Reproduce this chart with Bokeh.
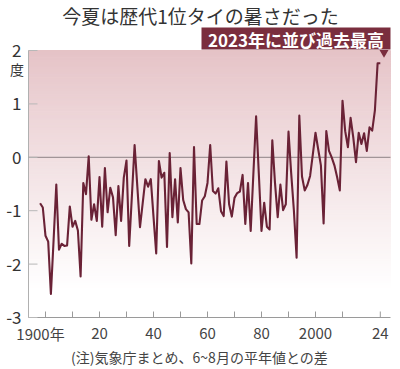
import numpy as np
from bokeh.plotting import figure
from bokeh.models import Range1d
from bokeh.embed import file_html
from bokeh.resources import INLINE
from bokeh.core.properties import value

# ---------------- data ----------------
years = list(range(1898, 2025))
anomaly = [
    -0.86, -0.94, -1.47, -1.58, -2.56, -1.55, -0.51, -1.73, -1.62, -1.66,   # 1898-1907
    -1.65, -0.92, -1.30, -1.19, -1.37, -2.23, -0.48, -0.69, 0.02, -1.17,    # 1908-1917
    -0.88, -1.19, -0.37, -1.30, -0.20, -1.03, -0.57, -0.75, -1.46, -0.54,   # 1918-1927
    -1.19, -0.38, -0.06, -1.66, -0.72, 0.23, -0.54, -1.31, -0.86, -0.41,    # 1928-1937
    -0.55, -0.41, -1.11, -1.80, -0.07, -0.38, -0.29, -1.68, 0.08, -1.12,    # 1938-1947
    -0.41, -1.22, -0.20, -0.80, -0.97, -1.03, -1.99, 0.19, -1.25, -1.25,    # 1948-1957
    -0.81, -0.73, -0.48, 0.23, -0.63, -0.68, -0.58, -1.01, -1.10, -0.08,    # 1958-1967
    -0.88, -1.11, -0.76, -0.67, -0.64, -0.33, -1.25, -0.48, -1.38, -0.30,   # 1968-1977
    0.77, -0.30, -1.38, -0.85, -1.30, -1.35, 0.32, -0.48, -1.12, -0.51,     # 1978-1987
    -0.99, -0.88, 0.48, -0.30, -1.00, -1.88, 0.78, -0.36, -0.62, -0.52,     # 1988-1997
    -0.35, 0.05, 0.46, 0.15, -0.15, -1.24, 0.49, 0.12, 0.00, -0.15,         # 1998-2007
    -0.37, -0.62, 1.06, 0.49, 0.19, 0.74, 0.37, -0.09, 0.46, 0.25,          # 2008-2017
    0.45, 0.12, 0.56, 0.50, 0.88, 1.76, 1.76,                               # 2018-2024
]
x_ticks = [1900, 1910, 1920, 1930, 1940, 1950, 1960, 1970, 1980, 1990, 2000, 2010, 2024]
x_label_years = [1900, 1920, 1940, 1960, 1980, 2000, 2024]
x_labels = ["1900年", "20", "40", "60", "80", "2000", "24"]
y_ticks = [-3, -2, -1, 0, 1, 2]
y_labels = ["-3", "-2", "-1", "0", "1", "2"]
title_text = "今夏は歴代1位タイの暑さだった"
badge_text = "2023年に並び過去最高"
unit_text = "度"
note_text = "(注)気象庁まとめ、6~8月の平年値との差"

# ---------------- layout helpers (pixel -> data, for decoration only) ----------------
W, H = 400, 369
FONT = value("Noto Sans CJK JP")
LINE_COLOR = "#6a2236"
BADGE_COLOR = "#7a2e3e"

PX_PER_YEAR = 2.7
PX_1900 = 45.0
PY_TOP, PY_BOTTOM = 50.0, 317.0          # pixel rows of y=2 and y=-3
Y0, Y1 = y_ticks[0], y_ticks[-1]
PX_PER_UNIT = (PY_BOTTOM - PY_TOP) / (Y1 - Y0)

def px2x(px):
    return 1900 + (px - PX_1900) / PX_PER_YEAR

def py2y(py):
    return Y1 - (py - PY_TOP) / PX_PER_UNIT

X0, X1 = px2x(28), px2x(390)   # plot area edges

p = figure(width=W, height=H, output_backend="svg", toolbar_location=None,
           x_range=Range1d(px2x(0), px2x(W)), y_range=Range1d(py2y(H), py2y(0)),
           min_border_left=0, min_border_right=0, min_border_top=0, min_border_bottom=0,
           x_axis_type=None, y_axis_type=None)
p.outline_line_color = None
p.grid.visible = False
p.background_fill_color = "white"
p.border_fill_color = "white"

# gradient background: pink at top fading to white
n = 110
edges = np.linspace(Y1, Y0, n + 1)
mids = (edges[:-1] + edges[1:]) / 2
top_rgb = np.array([229, 194, 198])
cols = []
for m in mids:
    t = min(1.0, (Y1 - m) / 4.5) ** 0.9
    c = top_rgb * (1 - t) + np.array([255, 255, 255]) * t
    cols.append("#%02x%02x%02x" % tuple(int(round(v)) for v in c))
p.quad(left=X0, right=X1, top=edges[:-1], bottom=edges[1:],
       fill_color=cols, line_color=cols, line_width=1)

# axis lines
p.segment(x0=[X0], y0=[Y0], x1=[X0], y1=[Y1], line_color="#b0b0b0", line_width=1)
p.segment(x0=[X0], y0=[Y0], x1=[X1], y1=[Y0], line_color="#9a9a9a", line_width=1)

# zero line
p.segment(x0=[X0], y0=[0], x1=[X1], y1=[0], line_color="#8e8386", line_width=1)

# ticks
tick_len_y = 6 / PX_PER_UNIT
p.segment(x0=x_ticks, y0=[Y0] * len(x_ticks), x1=x_ticks,
          y1=[Y0 + tick_len_y] * len(x_ticks), line_color="#9a9a9a", line_width=1)
tick_len_x = 9 / PX_PER_YEAR
p.segment(x0=[X0] * len(y_ticks), y0=y_ticks, x1=[X0 + tick_len_x] * len(y_ticks),
          y1=y_ticks, line_color="#b8b8b8", line_width=1)

# data line
p.line(years, anomaly, line_color=LINE_COLOR, line_width=2.1, line_join="round")

# tick labels
x_off = [-5 if s.endswith("年") else 0 for s in x_labels]
p.text(x=x_label_years, y=[py2y(333)] * len(x_labels), text=x_labels, x_offset=x_off,
       text_align="center", text_baseline="middle", text_font=FONT,
       text_font_size="15px", text_color="#444444")
p.text(x=[px2x(21)] * len(y_ticks), y=y_ticks, text=y_labels,
       text_align="right", text_baseline="middle", text_font=FONT,
       text_font_size="17px", text_color="#333333")
p.text(x=[px2x(16.5)], y=[py2y(68)], text=[unit_text], text_align="center",
       text_baseline="middle", text_font=FONT, text_font_size="14px",
       text_color="#333333")

# title
p.text(x=[px2x(200)], y=[py2y(15)], text=[title_text], text_align="center",
       text_baseline="middle", text_font=FONT, text_font_size="19px",
       text_color="#333333")

# badge
p.quad(left=[px2x(201)], right=[px2x(390)], top=[py2y(27)], bottom=[py2y(49)],
       fill_color=BADGE_COLOR, line_color=None)
p.scatter(x=[px2x(383.5)], y=[py2y(52)], marker="inverted_triangle", size=9,
          fill_color=BADGE_COLOR, line_color=None)
p.text(x=[px2x(295.5)], y=[py2y(38.5)], text=[badge_text], text_align="center",
       text_baseline="middle", text_font=FONT, text_font_size="17px",
       text_font_style="bold", text_color="white")

# note
p.text(x=[px2x(199)], y=[py2y(356)], text=[note_text], text_align="center",
       text_baseline="middle", text_font=FONT, text_font_size="14px",
       text_color="#444444")

open("out.html", "w").write(file_html(p, INLINE))
